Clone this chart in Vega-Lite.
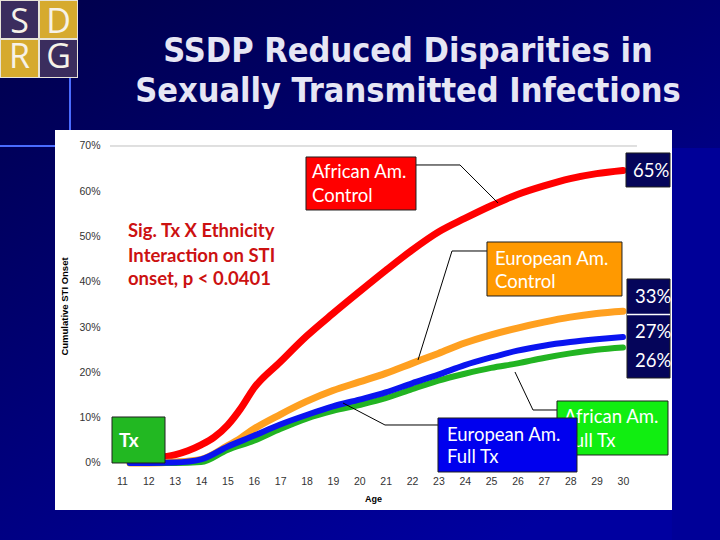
{
  "$schema": "https://vega.github.io/schema/vega-lite/v6.json",
  "width": 617,
  "height": 380,
  "autosize": {"type": "none"},
  "padding": {"left": 55, "top": 130, "right": 48, "bottom": 30},
  "background": "#00005c",
  "config": {"view": {"stroke": null}},
  "resolve": {"scale": {"fill": "independent"}},
  "datasets": {
    "bg": [{"x": 6.3, "x2": 33.8, "y": -17.3, "y2": 102.4}],
    "strip": [{"x": 31.859, "x2": 33.8, "y": 69.56, "y2": -17.3}],
    "panel": [{"x": 8.46, "x2": 31.86, "y": -10.38, "y2": 73.53}],
    "decoV": [{"x": 9.029, "y": 85.016, "y2": 73.533}],
    "decoH": [{"x": 6.374, "x2": 8.46, "y": 70.0}],
    "grid70": [{"x": 10.546, "x2": 30.532, "y": 70}],
    "title": [
      {"t": "SSDP Reduced Disparities in", "x": 21.847, "y": 88.549},
      {"t": "Sexually Transmitted Infections", "x": 21.847, "y": 79.716}
    ],
    "logoFrame": [{"x": 6.374, "x2": 9.332, "y": 102.24, "y2": 85.016}],
    "logo": [
      {"t": "S", "k": "purple", "x": 6.412, "x2": 7.815, "y": 102.019, "y2": 93.849, "cx": 7.114, "cy": 94.953},
      {"t": "D", "k": "gold", "x": 7.891, "x2": 9.294, "y": 102.019, "y2": 93.849, "cx": 8.593, "cy": 94.953},
      {"t": "R", "k": "gold", "x": 6.412, "x2": 7.815, "y": 93.407, "y2": 85.237, "cx": 7.114, "cy": 87.224},
      {"t": "G", "k": "purple", "x": 7.891, "x2": 9.294, "y": 93.407, "y2": 85.237, "cx": 8.593, "cy": 87.224}
    ],
    "red": [
      {"x": 11.3, "y": 0.5}, {"x": 12, "y": 1}, {"x": 13, "y": 1.8}, {"x": 13.5, "y": 2.7}, {"x": 14, "y": 4},
      {"x": 14.5, "y": 5.7}, {"x": 15, "y": 8.3}, {"x": 15.5, "y": 12}, {"x": 16, "y": 16.5}, {"x": 17, "y": 22.3},
      {"x": 18, "y": 28}, {"x": 19, "y": 33}, {"x": 20, "y": 37.8}, {"x": 21, "y": 42.5}, {"x": 22, "y": 47},
      {"x": 23, "y": 51}, {"x": 24, "y": 54}, {"x": 25, "y": 56.8}, {"x": 26, "y": 59.3}, {"x": 27, "y": 61.2},
      {"x": 28, "y": 62.8}, {"x": 29, "y": 63.9}, {"x": 30, "y": 64.6}
    ],
    "orange": [
      {"x": 11.3, "y": 0}, {"x": 12, "y": 0}, {"x": 13, "y": 0.2}, {"x": 14, "y": 0.8}, {"x": 15, "y": 3.8},
      {"x": 15.5, "y": 5.5}, {"x": 16, "y": 7.5}, {"x": 17, "y": 10.7}, {"x": 18, "y": 13.6}, {"x": 19, "y": 16},
      {"x": 20, "y": 17.9}, {"x": 21, "y": 19.8}, {"x": 22, "y": 22}, {"x": 23, "y": 24.2}, {"x": 24, "y": 26.5},
      {"x": 25, "y": 28.3}, {"x": 26, "y": 29.8}, {"x": 27, "y": 31.1}, {"x": 28, "y": 32.2}, {"x": 29, "y": 33},
      {"x": 30, "y": 33.5}
    ],
    "green": [
      {"x": 11.3, "y": 0}, {"x": 12, "y": 0}, {"x": 13, "y": 0}, {"x": 14, "y": 0.2}, {"x": 15, "y": 2.9},
      {"x": 16, "y": 4.9}, {"x": 17, "y": 7.5}, {"x": 18, "y": 9.8}, {"x": 19, "y": 11.5}, {"x": 20, "y": 12.8},
      {"x": 21, "y": 14.3}, {"x": 22, "y": 16.3}, {"x": 23, "y": 18.2}, {"x": 24, "y": 19.7}, {"x": 25, "y": 21},
      {"x": 26, "y": 22}, {"x": 27, "y": 23.2}, {"x": 28, "y": 24.2}, {"x": 29, "y": 25}, {"x": 30, "y": 25.5}
    ],
    "blue": [
      {"x": 11.3, "y": 0}, {"x": 12, "y": 0}, {"x": 13, "y": 0.1}, {"x": 14, "y": 0.8}, {"x": 15, "y": 3.6},
      {"x": 16, "y": 6}, {"x": 17, "y": 8.5}, {"x": 18, "y": 10.6}, {"x": 19, "y": 12.5}, {"x": 20, "y": 14},
      {"x": 21, "y": 15.6}, {"x": 22, "y": 17.6}, {"x": 23, "y": 19.5}, {"x": 24, "y": 21.6}, {"x": 25, "y": 23.3},
      {"x": 26, "y": 24.8}, {"x": 27, "y": 25.9}, {"x": 28, "y": 26.7}, {"x": 29, "y": 27.3}, {"x": 30, "y": 27.8}
    ],
    "leaders": [
      {"g": 1, "o": 1, "x": 22.151, "y": 65.805}, {"g": 1, "o": 2, "x": 23.82, "y": 65.805}, {"g": 1, "o": 3, "x": 25.261, "y": 57.414},
      {"g": 2, "o": 1, "x": 24.843, "y": 46.814}, {"g": 2, "o": 2, "x": 23.516, "y": 46.814}, {"g": 2, "o": 3, "x": 22.227, "y": 22.745},
      {"g": 3, "o": 1, "x": 27.498, "y": 11.704}, {"g": 3, "o": 2, "x": 26.588, "y": 11.704}, {"g": 3, "o": 3, "x": 25.905, "y": 20.095},
      {"g": 4, "o": 1, "x": 22.985, "y": 8.391}, {"g": 4, "o": 2, "x": 20.975, "y": 8.391}, {"g": 4, "o": 3, "x": 19.382, "y": 13.25}
    ],
    "boxes": [
      {"k": "red", "x": 17.979, "x2": 22.151, "y": 67.571, "y2": 55.868},
      {"k": "navy", "x": 30.115, "x2": 31.784, "y": 68.455, "y2": 60.947},
      {"k": "orange", "x": 24.843, "x2": 29.963, "y": 48.802, "y2": 36.877},
      {"k": "navy", "x": 30.153, "x2": 31.784, "y": 40.631, "y2": 18.77},
      {"k": "green", "x": 27.498, "x2": 31.708, "y": 13.691, "y2": 1.767},
      {"k": "tx", "x": 10.622, "x2": 12.632, "y": 10.158, "y2": 0.0}
    ],
    "sep": [{"x": 30.153, "x2": 31.784, "y": 32.79}],
    "labels": [
      {"t": "African Am.", "x": 18.207, "y": 62.934},
      {"t": "Control", "x": 18.207, "y": 57.634},
      {"t": "65%", "x": 30.38, "y": 63.155},
      {"t": "European Am.", "x": 25.147, "y": 43.723},
      {"t": "Control", "x": 25.147, "y": 38.644},
      {"t": "33%", "x": 30.456, "y": 35.332},
      {"t": "27%", "x": 30.456, "y": 27.603},
      {"t": "26%", "x": 30.456, "y": 21.199},
      {"t": "African Am.", "x": 27.764, "y": 8.833},
      {"t": "Full Tx", "x": 27.764, "y": 3.533}
    ],
    "sig": [
      {"t": "Sig. Tx X Ethnicity", "x": 11.228, "y": 49.906},
      {"t": "Interaction on STI", "x": 11.228, "y": 44.385},
      {"t": "onset, p < 0.0401", "x": 11.228, "y": 39.306}
    ],
    "tx": [{"t": "Tx", "x": 10.887, "y": 3.533}],
    "bluebox": [{"x": 22.985, "x2": 28.257, "y": 9.937, "y2": -1.987}],
    "bluelabels": [
      {"t": "European Am.", "x": 23.326, "y": 4.858},
      {"t": "Full Tx", "x": 23.326, "y": 0.0}
    ]
  },
  "encoding": {
    "x": {
      "field": "x", "type": "quantitative",
      "scale": {"domain": [8.46, 31.86], "nice": false, "zero": false},
      "axis": {
        "title": "Age", "values": [11,12,13,14,15,16,17,18,19,20,21,22,23,24,25,26,27,28,29,30],
        "domain": false, "ticks": false, "tickSize": 0, "grid": false, "labelPadding": 0, "offset": -34,
        "labelFont": "Liberation Sans", "labelFontSize": 10.5, "labelColor": "#333333",
        "titleFont": "Liberation Sans", "titleFontSize": 9, "titleFontWeight": "bold", "titleColor": "#000000",
        "titleX": 318, "titleY": 22, "titleBaseline": "middle", "titleAlign": "center", "zindex": 1, "labelFlush": false
      }
    },
    "y": {
      "field": "y", "type": "quantitative",
      "scale": {"domain": [-10.38, 73.53], "nice": false, "zero": false},
      "axis": {
        "title": "Cumulative STI Onset", "values": [0,10,20,30,40,50,60,70], "labelExpr": "datum.value + '%'",
        "domain": false, "ticks": false, "tickSize": 0, "grid": false, "labelPadding": 0, "offset": -45,
        "labelFont": "Liberation Sans", "labelFontSize": 10.5, "labelColor": "#333333",
        "titleFont": "Liberation Sans", "titleFontSize": 9.5, "titleFontWeight": "bold", "titleColor": "#000000",
        "titleX": -36, "titleY": 176, "titleAlign": "center", "titleBaseline": "middle", "titleAngle": -90, "zindex": 1
      }
    }
  },
  "layer": [
    {"data": {"name": "bg"}, "mark": {"type": "rect", "fill": {"gradient": "linear", "x1": 0, "y1": 0, "x2": 0.7, "y2": 1, "stops": [{"offset": 0, "color": "#00004a"}, {"offset": 1, "color": "#0000a0"}]}},
     "encoding": {"x2": {"field": "x2"}, "y2": {"field": "y2"}}},
    {"data": {"name": "strip"}, "mark": {"type": "rect", "fill": "#000098"},
     "encoding": {"x2": {"field": "x2"}, "y2": {"field": "y2"}}},
    {"data": {"name": "decoV"}, "mark": {"type": "rule", "stroke": "#4a6cff", "strokeWidth": 2},
     "encoding": {"y2": {"field": "y2"}}},
    {"data": {"name": "decoH"}, "mark": {"type": "rule", "stroke": "#4a6cff", "strokeWidth": 2},
     "encoding": {"x2": {"field": "x2"}}},
    {"data": {"name": "title"}, "mark": {"type": "text", "font": "Liberation Sans Narrow, DejaVu Sans Condensed, Liberation Sans", "fontSize": 34, "fontWeight": "bold", "color": "#e6e6f4", "align": "center", "baseline": "alphabetic"},
     "encoding": {"text": {"field": "t"}}},
    {"data": {"name": "logoFrame"}, "mark": {"type": "rect", "fill": "#e8e4d8"},
     "encoding": {"x2": {"field": "x2"}, "y2": {"field": "y2"}}},
    {"data": {"name": "logo"}, "mark": {"type": "rect"},
     "encoding": {"x2": {"field": "x2"}, "y2": {"field": "y2"},
       "fill": {"field": "k", "type": "nominal", "scale": {"domain": ["purple", "gold"], "range": ["#3b2d5e", "#d6aa2e"]}, "legend": null}}},
    {"data": {"name": "logo"}, "mark": {"type": "text", "font": "Open Sans", "fontSize": 34, "color": "#f6f2e8", "align": "center", "baseline": "alphabetic"},
     "encoding": {"x": {"field": "cx", "type": "quantitative"}, "y": {"field": "cy", "type": "quantitative"}, "text": {"field": "t"}}},
    {"data": {"name": "panel"}, "mark": {"type": "rect", "fill": "#ffffff"},
     "encoding": {"x2": {"field": "x2"}, "y2": {"field": "y2"}}},
    {"data": {"name": "grid70"}, "mark": {"type": "rule", "stroke": "#c0c0c0", "strokeWidth": 1},
     "encoding": {"x2": {"field": "x2"}}},
    {"data": {"name": "red"}, "mark": {"type": "line", "stroke": "#ff0000", "strokeWidth": 7, "interpolate": "monotone", "strokeCap": "round"}, "encoding": {}},
    {"data": {"name": "orange"}, "mark": {"type": "line", "stroke": "#ffa020", "strokeWidth": 7, "interpolate": "monotone", "strokeCap": "round"}, "encoding": {}},
    {"data": {"name": "green"}, "mark": {"type": "line", "stroke": "#22b422", "strokeWidth": 6, "interpolate": "monotone", "strokeCap": "round"}, "encoding": {}},
    {"data": {"name": "blue"}, "mark": {"type": "line", "stroke": "#0a14f0", "strokeWidth": 6, "interpolate": "monotone", "strokeCap": "round"}, "encoding": {}},
    {"data": {"name": "leaders"}, "mark": {"type": "line", "stroke": "#000000", "strokeWidth": 1},
     "encoding": {"detail": {"field": "g"}, "order": {"field": "o"}}},
    {"data": {"name": "boxes"}, "mark": {"type": "rect", "stroke": "#202020", "strokeWidth": 1},
     "encoding": {"x2": {"field": "x2"}, "y2": {"field": "y2"},
       "fill": {"field": "k", "type": "nominal", "scale": {"domain": ["red", "navy", "orange", "green", "tx"], "range": ["#ff0000", "#05055a", "#ff9900", "#11ee11", "#22b822"]}, "legend": null}}},
    {"data": {"name": "sep"}, "mark": {"type": "rule", "stroke": "#ffffff", "strokeWidth": 1.5},
     "encoding": {"x2": {"field": "x2"}}},
    {"data": {"name": "labels"}, "mark": {"type": "text", "font": "Lato", "fontSize": 18.5, "color": "#ffffff", "align": "left", "baseline": "alphabetic"},
     "encoding": {"text": {"field": "t"}}},
    {"data": {"name": "sig"}, "mark": {"type": "text", "font": "Lato", "fontSize": 18.5, "fontWeight": "bold", "color": "#cc1111", "align": "left", "baseline": "alphabetic"},
     "encoding": {"text": {"field": "t"}}},
    {"data": {"name": "tx"}, "mark": {"type": "text", "font": "Lato", "fontSize": 19, "fontWeight": "bold", "color": "#ffffff", "align": "left", "baseline": "alphabetic"},
     "encoding": {"text": {"field": "t"}}},
    {"data": {"name": "bluebox"}, "mark": {"type": "rect", "fill": "#0000ee", "stroke": "#202020", "strokeWidth": 1},
     "encoding": {"x2": {"field": "x2"}, "y2": {"field": "y2"}}},
    {"data": {"name": "bluelabels"}, "mark": {"type": "text", "font": "Lato", "fontSize": 18.5, "color": "#ffffff", "align": "left", "baseline": "alphabetic"},
     "encoding": {"text": {"field": "t"}}}
  ]
}
